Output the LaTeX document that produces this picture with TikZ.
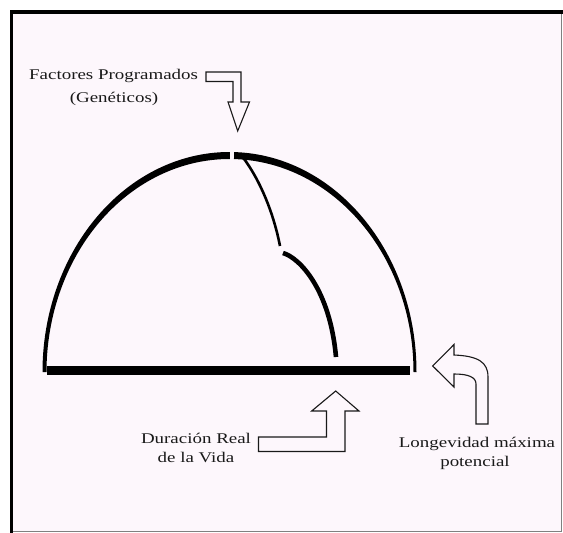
\documentclass[tikz,border=0pt]{standalone}
\usepackage{fontspec}
\setmainfont{Liberation Serif}[FakeStretch=1.28]
\usetikzlibrary{calc}
\definecolor{bgpink}{RGB}{253,247,252}
\definecolor{ink}{RGB}{25,25,25}
\begin{document}
\begin{tikzpicture}[x=1pt,y=-1pt,
  hollow/.style={draw=ink, line width=1.1pt, fill=bgpink, line join=miter},
  lbl/.style={anchor=base, inner sep=0pt, text=ink, font=\fontsize{14.8}{19}\selectfont}]
\useasboundingbox (0,0) rectangle (563,533);
\fill[white] (0,0) rectangle (563,533);
\fill[bgpink] (11.5,12) rectangle (561.5,531.5);
\draw[gray, line width=1.3pt] (561.5,12) -- (561.5,531.5) -- (11.5,531.5);
\draw[black, line width=3.2pt] (11.5,533) -- (11.5,12) -- (563,12);
% dome
\coordinate (c) at (229.5,372);
\fill[black] ($(c)+(180:187 and 220)$) arc[start angle=180,end angle=270.15,x radius=187,y radius=220]
  -- ($(c)+(270.15:183 and 213)$) arc[start angle=270.15,end angle=180,x radius=183,y radius=213] -- cycle;
\fill[black] ($(c)+(271.4:187 and 220)$) arc[start angle=271.4,end angle=360,x radius=187,y radius=220]
  -- ($(c)+(360:184 and 213)$) arc[start angle=360,end angle=271.4,x radius=184,y radius=213] -- cycle;
% base bar
\fill[black] (47,365.5) rectangle (410,375);
% inner curve
\draw[black, line width=2.6pt] (241,155) .. controls (255,172) and (272,205) .. (280,246);
\draw[black, line width=4.6pt] (283,253) .. controls (300,258) and (330,290) .. (336,357);
% arrows
\draw[hollow] (206,72) -- (241,72) -- (241,102) -- (249.5,102) -- (237.7,131) -- (228,102) -- (233,102) -- (233,81.5) -- (206,81.5) -- cycle;
\draw[hollow] (258.5,437) -- (326.5,437) -- (326.5,411) -- (311.7,411) -- (335.7,391) -- (359,411) -- (345,411) -- (345,451.5) -- (258.5,451.5) -- cycle;
\draw[hollow] (432.7,366) -- (454,344.5) -- (454,355) .. controls (478,356) and (488,362) .. (488,377) -- (488,424) -- (476,424) -- (476,384) .. controls (476,377) and (468,374) .. (454,374) -- (454,387) -- cycle;
% labels
\node[lbl] (fp1) at (113.6,79.5) {Factores Programados};
\node[lbl] (fp2) at (114,102.5) {(Genéticos)};
\node[lbl] (dr1) at (196,443) {Duración Real};
\node[lbl] (dr2) at (196,462) {de la Vida};
\node[lbl] (lm1) at (477,447) {Longevidad máxima};
\node[lbl] (lm2) at (475,466) {potencial};
\end{tikzpicture}
\end{document}
